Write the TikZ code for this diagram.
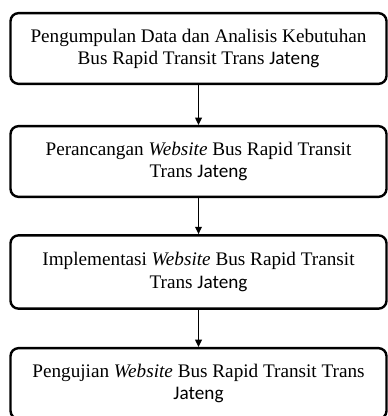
\documentclass[tikz,border=0pt]{standalone}
\usepackage{fontspec}
\setmainfont{Liberation Serif}
\newfontfamily\calibrifont{Carlito}
\usetikzlibrary{arrows.meta}

\tikzset{every picture/.style={line width=0.75pt}}
\tikzset{
  stepbox/.style={draw, rounded corners=6pt, line width=1.8pt, minimum width=282pt, align=center, inner sep=0.75pt, font=\fontsize{14.4}{16.6}\selectfont},
  flowarrow/.style={line width=1.1pt, -{Triangle[width=5pt,length=5.5pt]}}
}

\begin{document}
\begin{tikzpicture}[x=0.75pt,y=0.75pt,yscale=-1,xscale=1]
%set diagram size: 387 x 416
\useasboundingbox (0,0) rectangle (387,416);

% Step Nodes
\node [stepbox, minimum height=53pt] (kebutuhan) at (198.5,48.5) {Pengumpulan Data dan Analisis Kebutuhan\\Bus Rapid Transit Trans {\calibrifont Jateng}};
\node [stepbox, minimum height=53pt] (perancangan) at (198.5,161.5) {Perancangan \textit{Website} Bus Rapid Transit\\Trans {\calibrifont Jateng}};
\node [stepbox, minimum height=55pt] (implementasi) at (198.5,272) {Implementasi \textit{Website} Bus Rapid Transit\\Trans {\calibrifont Jateng}};
\node [stepbox, minimum height=53pt] (pengujian) at (198.5,383.5) {Pengujian \textit{Website} Bus Rapid Transit Trans\\{\calibrifont Jateng}};

%Straight Lines
\draw [flowarrow] (kebutuhan) -- (perancangan);
\draw [flowarrow] (perancangan) -- (implementasi);
\draw [flowarrow] (implementasi) -- (pengujian);

\end{tikzpicture}
\end{document}
